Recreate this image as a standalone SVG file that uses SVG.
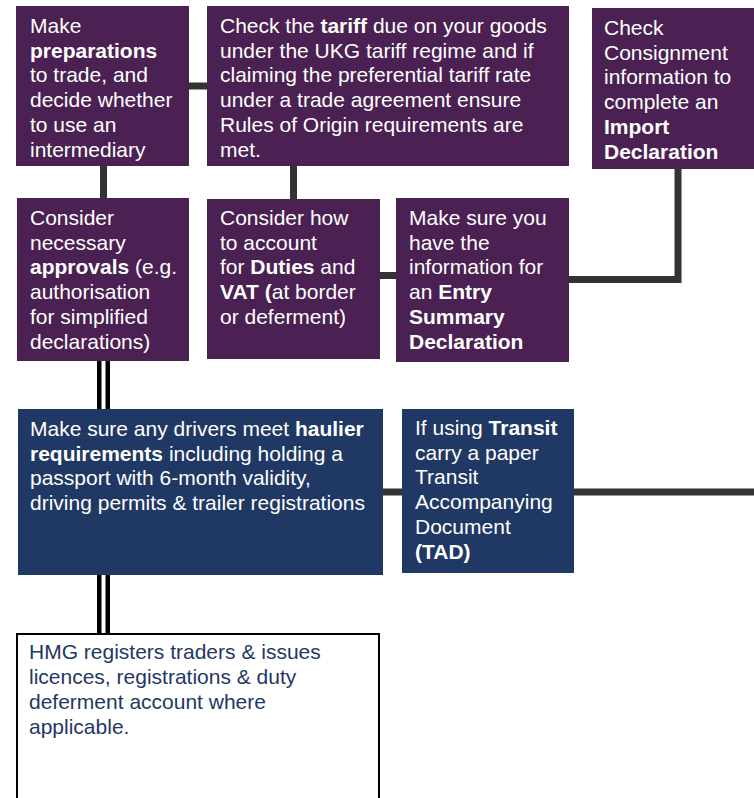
<svg xmlns="http://www.w3.org/2000/svg" width="754" height="798" viewBox="0 0 754 798">
<style>
.p{fill:#4A2152}
.n{fill:#1F3864}
.t{font-family:"Liberation Sans",Arial,sans-serif;font-size:21px;fill:#ffffff}
.d{fill:#1F3864}
.b{font-weight:bold}
.c{stroke:#333333;fill:none;stroke-width:7}
</style>
<rect width="754" height="798" fill="#ffffff"/>
<g id="connectors">
<line class="c" x1="189" y1="86" x2="207" y2="86"/>
<line class="c" x1="103.5" y1="166" x2="103.5" y2="198"/>
<line class="c" x1="293.5" y1="166" x2="293.5" y2="199"/>
<line class="c" x1="380" y1="275.5" x2="396" y2="275.5"/>
<polyline class="c" points="569,279.5 678,279.5 678,169"/>
<line class="c" x1="383" y1="492" x2="402" y2="492"/>
<line class="c" x1="574" y1="492" x2="754" y2="492"/>
<line x1="103.5" y1="361" x2="103.5" y2="409" stroke="#000" stroke-width="13"/>
<line x1="103.5" y1="361" x2="103.5" y2="409" stroke="#fff" stroke-width="4"/>
<line x1="103.5" y1="575" x2="103.5" y2="633" stroke="#000" stroke-width="13"/>
<line x1="103.5" y1="575" x2="103.5" y2="633" stroke="#fff" stroke-width="4"/>
</g>
<g id="n1">
<rect class="p" x="16" y="6" width="173" height="160"/>
<text class="t" x="30" y="33">Make</text>
<text class="t" x="30" y="57.7"><tspan class="b">preparations</tspan></text>
<text class="t" x="30" y="82.4">to trade, and</text>
<text class="t" x="30" y="107.1">decide whether</text>
<text class="t" x="30" y="131.8">to use an</text>
<text class="t" x="30" y="156.5">intermediary</text>
</g>
<g id="n2">
<rect class="p" x="207" y="6" width="362" height="160"/>
<text class="t" x="220" y="33">Check the <tspan class="b">tariff</tspan> due on your goods</text>
<text class="t" x="220" y="57.7">under the UKG tariff regime and if</text>
<text class="t" x="220" y="82.4">claiming the preferential tariff rate</text>
<text class="t" x="220" y="107.1">under a trade agreement ensure</text>
<text class="t" x="220" y="131.8">Rules of Origin requirements are</text>
<text class="t" x="220" y="156.5">met.</text>
</g>
<g id="n3">
<rect class="p" x="592" y="8" width="162" height="161"/>
<text class="t" x="604" y="35">Check</text>
<text class="t" x="604" y="59.7">Consignment</text>
<text class="t" x="604" y="84.4">information to</text>
<text class="t" x="604" y="109.1">complete an</text>
<text class="t b" x="604" y="133.8">Import</text>
<text class="t b" x="604" y="158.5">Declaration</text>
</g>
<g id="n4">
<rect class="p" x="17" y="198" width="172" height="163"/>
<text class="t" x="30" y="225">Consider</text>
<text class="t" x="30" y="249.7">necessary</text>
<text class="t" x="30" y="274.4"><tspan class="b">approvals</tspan> (e.g.</text>
<text class="t" x="30" y="299.1">authorisation</text>
<text class="t" x="30" y="323.8">for simplified</text>
<text class="t" x="30" y="348.5">declarations)</text>
</g>
<g id="n5">
<rect class="p" x="207" y="199" width="173" height="160"/>
<text class="t" x="220" y="225">Consider how</text>
<text class="t" x="220" y="249.7">to account</text>
<text class="t" x="220" y="274.4">for <tspan class="b">Duties</tspan> and</text>
<text class="t" x="220" y="299.1"><tspan class="b">VAT (</tspan>at border</text>
<text class="t" x="220" y="323.8">or deferment)</text>
</g>
<g id="n6">
<rect class="p" x="396" y="198" width="173" height="164"/>
<text class="t" x="409" y="225">Make sure you</text>
<text class="t" x="409" y="249.7">have the</text>
<text class="t" x="409" y="274.4">information for</text>
<text class="t" x="409" y="299.1">an <tspan class="b">Entry</tspan></text>
<text class="t b" x="409" y="323.8">Summary</text>
<text class="t b" x="409" y="348.5">Declaration</text>
</g>
<g id="n7">
<rect class="n" x="18" y="409" width="365" height="166"/>
<text class="t" x="30" y="436">Make sure any drivers meet <tspan class="b">haulier</tspan></text>
<text class="t" x="30" y="460.7"><tspan class="b">requirements</tspan> including holding a</text>
<text class="t" x="30" y="485.4">passport with 6-month validity,</text>
<text class="t" x="30" y="510.1">driving permits &amp; trailer registrations</text>
</g>
<g id="n8">
<rect class="n" x="402" y="409" width="172" height="164"/>
<text class="t" x="415" y="435">If using <tspan class="b">Transit</tspan></text>
<text class="t" x="415" y="459.7">carry a paper</text>
<text class="t" x="415" y="484.4">Transit</text>
<text class="t" x="415" y="509.1">Accompanying</text>
<text class="t" x="415" y="533.8">Document</text>
<text class="t b" x="415" y="558.5">(TAD)</text>
</g>
<g id="n9">
<rect x="17" y="634" width="362" height="170" fill="#ffffff" stroke="#000000" stroke-width="2"/>
<text class="t d" x="29" y="659">HMG registers traders &amp; issues</text>
<text class="t d" x="29" y="684">licences, registrations &amp; duty</text>
<text class="t d" x="29" y="709">deferment account where</text>
<text class="t d" x="29" y="734">applicable.</text>
</g>
</svg>
